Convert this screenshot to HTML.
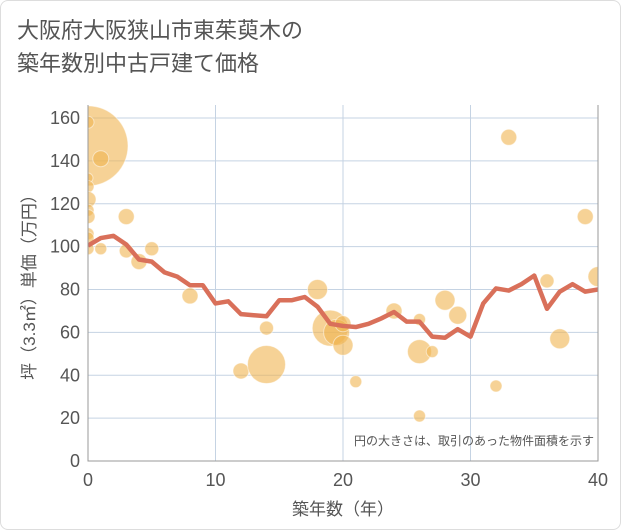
<!DOCTYPE html>
<html><head><meta charset="utf-8"><style>
body{margin:0;background:#fff;}
#wrap{position:relative;width:619px;height:528px;border:1px solid #ddd;border-radius:8px;overflow:hidden;font-family:"Liberation Sans","Noto Sans CJK JP",sans-serif;}
#title{position:absolute;left:16px;top:13px;font-size:22px;line-height:33px;color:#555;}
svg{position:absolute;left:0;top:0;}
</style></head><body>
<div id="wrap">
<div id="title">大阪府大阪狭山市東茱萸木の<br>築年数別中古戸建て価格</div>
<svg id="c" width="621" height="530"></svg>
</div>
<script>
const xTicks=[0,10,20,30,40];
const yTicks=[0,20,40,60,80,100,120,140,160];
const lineYears=[0,1,2,3,4,5,6,7,8,9,10,11,12,13,14,15,16,17,18,19,20,21,22,23,24,25,26,27,28,29,30,31,32,33,34,35,36,37,38,39,40];
const lineValues=[100.5,104,105,101,94,93,88,86,82,82,73.5,74.5,68.5,68,67.5,75,75,76.5,72,64,63,62.5,64,66.5,69.5,65,65,58,57.5,61.5,58,73.5,80.5,79.5,82.5,86.5,71,79,82.5,79,80];
const bubbleX=[0,0,1,0,0,0,0,0,0,0,0,1,3,3,4,5,8,12,14,14,18,19,19.5,20,20,21,24,26,26,26,27,28,29,32,33,36,37,39,40];
const bubbleY=[147,158,141,132,128,122,117,114,106,104,99,99,114,98,93,99,77,42,45,62,80,62,60,64,54,37,70,66,51,21,51,75,68,35,151,84,57,114,86];
const bubbleSize=[40,6,8,5,6,8,6,7,6,6,6,6,8,7,8,7,8,8,19,7,10,18,13,8,10,6,8,6,12,6,6,10,9,6,8,7,10,8,10];
const L=87,R=597,T=104,B=460;
const sx=v=>L+(v-0)/40*(R-L);
const sy=v=>B-v/160*(B-117);
const svg=document.getElementById('c');const NS='http://www.w3.org/2000/svg';
function mk(t,a,p){const e=document.createElementNS(NS,t);for(const k in a)e.setAttribute(k,a[k]);(p||svg).appendChild(e);return e;}
const clip=mk('clipPath',{id:'pc'});mk('rect',{x:L,y:T,width:R-L,height:B-T},clip);
yTicks.forEach(v=>{const g=mk('line',{x1:L,x2:R,y1:sy(v),y2:sy(v),stroke:'#c5d3e3','stroke-width':1});

const t=mk('text',{x:L-8,y:sy(v)+6,'text-anchor':'end','font-size':18,fill:'#555'});t.textContent=v;
});
xTicks.forEach(v=>{const g=mk('line',{x1:sx(v),x2:sx(v),y1:T,y2:B,stroke:'#c5d3e3','stroke-width':1});

const t=mk('text',{x:sx(v),y:B+25,'text-anchor':'middle','font-size':18,fill:'#555'});t.textContent=v;
});
const gb=mk('g',{'clip-path':'url(#pc)'});
bubbleX.forEach((x,i)=>{const c=mk('circle',{cx:sx(x),cy:sy(bubbleY[i]),r:bubbleSize[i],fill:'rgba(240,180,80,0.6)',stroke:'rgba(255,255,255,0.5)','stroke-width':1},gb);
});
const pl=mk('polyline',{points:lineYears.map((x,i)=>sx(x)+','+sy(lineValues[i])).join(' '),fill:'none',stroke:'#d9705a','stroke-width':4.5,'stroke-linejoin':'round'},gb);

const fr=mk('path',{d:`M${L},${T}V${B}H${R}V${T}`,fill:'none',stroke:'#999','stroke-width':1});

const xl=mk('text',{x:(L+R)/2,y:514,'text-anchor':'middle','font-size':17,fill:'#555'});xl.textContent='築年数（年）';

const yl=mk('text',{x:0,y:0,'text-anchor':'middle','font-size':17,fill:'#555',transform:`translate(34,${(T+B)/2}) rotate(-90)`});yl.textContent='坪（3.3㎡）単価（万円）';

const nt=mk('text',{x:R-4,y:444,'text-anchor':'end','font-size':12,fill:'#555'});nt.textContent='円の大きさは、取引のあった物件面積を示す';

</script>
</body></html>
